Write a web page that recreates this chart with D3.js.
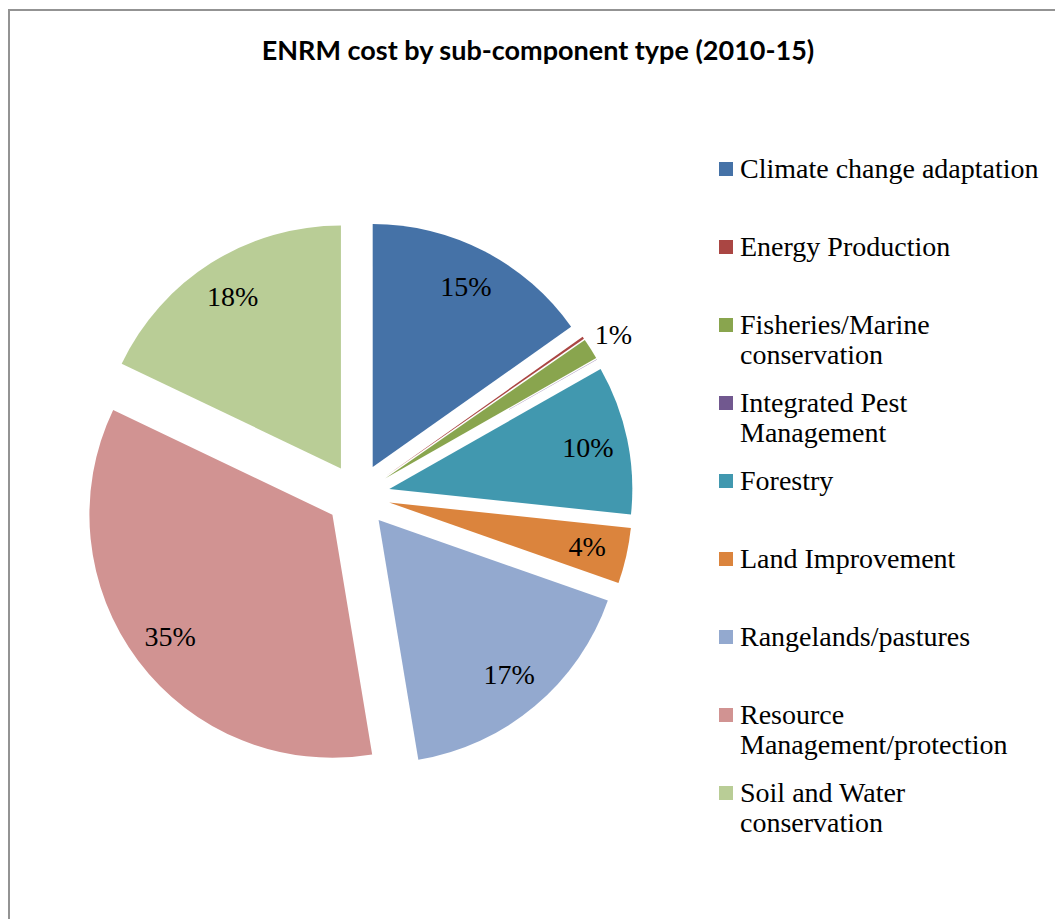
<!DOCTYPE html>
<html>
<head>
<meta charset="utf-8">
<script src="https://cdn.jsdelivr.net/npm/d3@7"></script>
<style>
  html, body { margin: 0; padding: 0; background: #ffffff; }
  svg { display: block; }
</style>
</head>
<body>
<svg id="chart" width="1055" height="919"></svg>
<script>
// ---- data ----
const title = "ENRM cost by sub-component type (2010-15)";
const categories = [
  "Climate change adaptation",
  "Energy Production",
  "Fisheries/Marine conservation",
  "Integrated Pest Management",
  "Forestry",
  "Land Improvement",
  "Rangelands/pastures",
  "Resource Management/protection",
  "Soil and Water conservation"
];
const legendLines = [
  ["Climate change adaptation"],
  ["Energy Production"],
  ["Fisheries/Marine", "conservation"],
  ["Integrated Pest", "Management"],
  ["Forestry"],
  ["Land Improvement"],
  ["Rangelands/pastures"],
  ["Resource", "Management/protection"],
  ["Soil and Water", "conservation"]
];
const values = [15.2, 0.15, 1.4, 0.02, 9.9, 3.7, 17.0, 34.7, 17.9];
const valueLabels = ["15%", "", "1%", "", "10%", "4%", "17%", "35%", "18%"];
const colors = ["#4572A7", "#AA4643", "#89A54E", "#71588F", "#4198AF",
                "#DB843D", "#93A9CF", "#D19392", "#B9CD96"];

// ---- layout ----
const svg = d3.select("#chart");
svg.append("rect").attr("width", 1055).attr("height", 919).attr("fill", "#fff");

// chart frame (top and left edges visible)
svg.append("path")
  .attr("d", "M9,919 L9,10 L1055,10")
  .attr("fill", "none")
  .attr("stroke", "#939393")
  .attr("stroke-width", 2);

svg.append("text")
  .attr("x", 538).attr("y", 60)
  .attr("text-anchor", "middle")
  .attr("font-family", "'Lato', sans-serif")
  .attr("font-weight", "bold")
  .attr("font-size", 27)
  .attr("fill", "#000")
  .text(title);

const cx = 358, cy = 495.5, R = 243, explode = 32;
const serif = "'Liberation Serif', 'DejaVu Serif', serif";

const pie = d3.pie().sort(null).value(d => d)(values);
const arc = d3.arc().innerRadius(0).outerRadius(R);

const g = svg.append("g").attr("transform", `translate(${cx},${cy})`);

const slices = g.selectAll("g.slice").data(pie).enter().append("g")
  .attr("class", "slice")
  .attr("transform", d => {
    const m = (d.startAngle + d.endAngle) / 2;
    return `translate(${Math.sin(m) * explode},${-Math.cos(m) * explode})`;
  });

slices.append("path")
  .attr("d", arc)
  .attr("fill", (d, i) => colors[i]);

slices.append("text")
  .attr("transform", d => {
    const m = (d.startAngle + d.endAngle) / 2;
    const r = d.value < 2 ? R * 1.11 : R * 0.835;
    return `translate(${Math.sin(m) * r},${-Math.cos(m) * r})`;
  })
  .attr("dy", 9)
  .attr("text-anchor", "middle")
  .attr("font-family", serif)
  .attr("font-size", 28)
  .attr("fill", "#000")
  .text((d, i) => valueLabels[i]);

// ---- legend ----
const legY = d3.scaleBand().domain(categories).range([130, 832]);
const leg = svg.append("g");
const items = leg.selectAll("g.item").data(categories).enter().append("g")
  .attr("class", "item")
  .attr("transform", (c) => `translate(719,${legY(c) + legY.bandwidth() / 2})`);

items.append("rect")
  .attr("x", 0).attr("y", -7)
  .attr("width", 14).attr("height", 14)
  .attr("fill", (c, i) => colors[i]);

items.each(function(c, i) {
  const t = d3.select(this).append("text")
    .attr("x", 21).attr("y", 9)
    .attr("font-family", serif)
    .attr("font-size", 28)
    .attr("fill", "#000");
  legendLines[i].forEach((line, j) => {
    t.append("tspan").attr("x", 21).attr("dy", j === 0 ? 0 : 30).text(line);
  });
});
</script>
</body>
</html>
